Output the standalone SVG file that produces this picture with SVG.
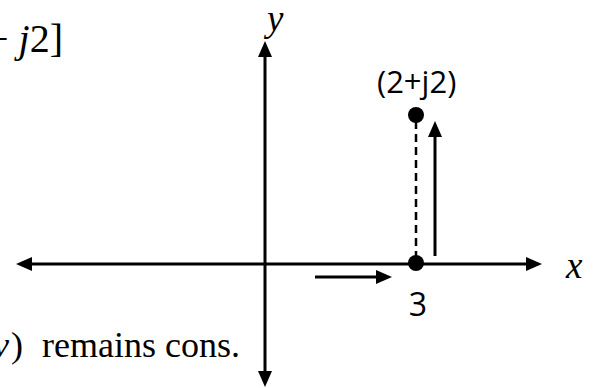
<svg xmlns="http://www.w3.org/2000/svg" width="595" height="388" viewBox="0 0 595 388">
<style>
.ax{stroke:#000;stroke-width:3;fill:none}
.dash{stroke:#000;stroke-width:2.5;stroke-dasharray:8,5;fill:none}
.math{font-family:"Liberation Serif","Times New Roman",serif;font-style:italic;fill:#000}
.serif{font-family:"Liberation Serif","Times New Roman",serif;fill:#000}
.sans{font-family:"Open Sans","Noto Sans",sans-serif;fill:#000}
</style>
<defs>
<marker id="ah" markerUnits="userSpaceOnUse" markerWidth="16" markerHeight="14" refX="1" refY="7" orient="auto-start-reverse">
<path d="M0,0 L16,7 L0,14 z" fill="#000"/>
</marker>
</defs>
<rect width="595" height="388" fill="#fff"/>
<g id="connectors">
<line class="ax" x1="31" y1="264" x2="527" y2="264" marker-start="url(#ah)" marker-end="url(#ah)"/>
<line class="ax" x1="265" y1="56" x2="265" y2="372" marker-start="url(#ah)" marker-end="url(#ah)"/>
<line class="dash" x1="416" y1="121" x2="416" y2="258"/>
<line class="ax" x1="435" y1="256" x2="435" y2="136" marker-end="url(#ah)"/>
<line class="ax" x1="315" y1="277" x2="377" y2="277" marker-end="url(#ah)"/>
</g>
<g id="point-upper"><circle cx="416" cy="115" r="8" fill="#000"/><text class="sans" x="377" y="93" font-size="31">(2+j2)</text></g>
<g id="point-lower"><circle cx="416" cy="263" r="8" fill="#000"/><text class="sans" x="418" y="316" font-size="32" text-anchor="middle">3</text></g>
<g id="label-x"><text class="math" x="566" y="278" font-size="37">x</text></g>
<g id="label-y"><text class="math" x="267" y="31" font-size="37">y</text></g>
<g id="text-top"><text class="serif" x="-14" y="52" font-size="40">+ <tspan font-style="italic">j</tspan>2]</text></g>
<g id="text-bottom"><text class="serif" y="357" font-size="36"><tspan x="-7" font-style="italic">v</tspan><tspan x="11">)</tspan><tspan x="42">remains cons.</tspan></text></g>
</svg>
